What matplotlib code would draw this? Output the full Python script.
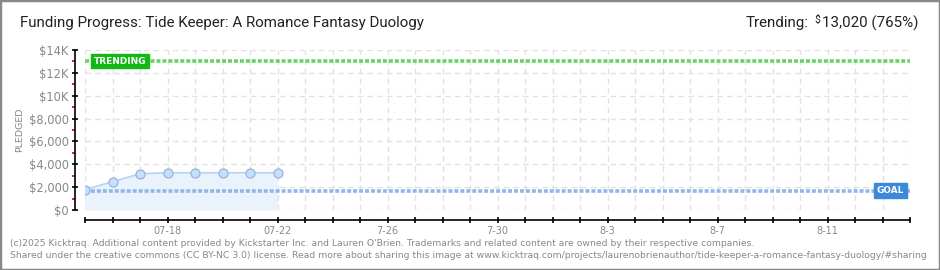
import datetime as dt
import matplotlib
matplotlib.use("Agg")
import matplotlib.pyplot as plt
import matplotlib.dates as mdates
from matplotlib.patches import Rectangle

# ---------------- data ----------------
dates = [dt.date(2025, 7, d) for d in range(15, 23)]
pledged = [1790, 2470, 3170, 3260, 3260, 3260, 3260, 3260]
goal = 1700
trending = 13020
x_start = dt.date(2025, 7, 15)
x_end = dt.date(2025, 8, 14)
label_dates = [dt.date(2025, 7, 18), dt.date(2025, 7, 22), dt.date(2025, 7, 26),
               dt.date(2025, 7, 30), dt.date(2025, 8, 3), dt.date(2025, 8, 7),
               dt.date(2025, 8, 11)]
label_texts = ["07-18", "07-22", "7-26", "7-30", "8-3", "8-7", "8-11"]
y_ticks = [0, 2000, 4000, 6000, 8000, 10000, 12000, 14000]
y_labels = ["$0", "$2,000", "$4,000", "$6,000", "$8,000", "$10K", "$12K", "$14K"]
y_minor = [1000, 3000, 5000, 7000, 9000, 11000, 13000]
title = "Funding Progress: Tide Keeper: A Romance Fantasy Duology"
footer1 = ("(c)2025 Kicktraq. Additional content provided by Kickstarter Inc. and Lauren O'Brien. "
           "Trademarks and related content are owned by their respective companies.")
footer2 = ("Shared under the creative commons (CC BY-NC 3.0) license. Read more about sharing this image at "
           "www.kicktraq.com/projects/laurenobrienauthor/tide-keeper-a-romance-fantasy-duology/#sharing")

W, H = 940, 270
fig = plt.figure(figsize=(W / 100, H / 100), dpi=100)
fig.patch.set_facecolor("white")

def fx(px):
    return px / W

def fy(py):
    return 1 - py / H

ax = fig.add_axes([fx(85), fy(210), fx(910) - fx(85), fy(50) - fy(210)])
ax.set_facecolor("none")

xs = mdates.date2num(dates)
x0 = mdates.date2num(x_start)
x1 = mdates.date2num(x_end)
ax.set_xlim(x0, x1)
ax.set_ylim(0, 14000)

# grid
all_days = [x0 + i for i in range(int(x1 - x0) + 1)]
for d in all_days:
    ax.axvline(d, color="#e2e2e2", lw=1, ls=(0, (4, 3)), zorder=0)
for yv in y_ticks:
    ax.axhline(yv, color="#e2e2e2", lw=1, ls=(0, (4, 3)), zorder=0)

# fill + series
ax.fill_between(xs, pledged, 0, color="#eaf2fc", zorder=1, lw=0)
ax.plot(xs, pledged, color="#b5d3f2", lw=1.2, zorder=3)
ax.plot(xs, pledged, ls="none", marker="o", ms=6.5, mfc="#c8defa",
        mec="#93b5dd", mew=0.9, zorder=4)

# goal and trending lines
ax.plot([x0, x1], [goal, goal], color="#90b8e6", lw=2.6, ls=(0, (1.1, 0.55)), zorder=2)
ax.plot([x0, x1], [trending, trending], color="#66d466", lw=2.6, ls=(0, (1.1, 0.55)), zorder=2)

# labels on lines
ax.text(x0 + 0.33, trending, "TRENDING", color="white", fontsize=6.4, fontweight="bold",
        ha="left", va="center", zorder=6,
        bbox=dict(boxstyle="square,pad=0.3", fc="#14b814", ec="#14b814"))
ax.text(x1 - 0.22, goal, "GOAL", color="white", fontsize=6.4, fontweight="bold",
        ha="right", va="center", zorder=6,
        bbox=dict(boxstyle="square,pad=0.35", fc="#3c88da", ec="#3c88da"))

# spines
for s in ["top", "right"]:
    ax.spines[s].set_visible(False)
ax.spines["left"].set_position(("outward", 7.2))
ax.spines["bottom"].set_position(("outward", 7.2))
ax.spines["left"].set_color("black")
ax.spines["bottom"].set_color("black")
ax.spines["left"].set_linewidth(1.2)
ax.spines["bottom"].set_linewidth(1.2)

ax.set_yticks(y_ticks)
ax.set_yticklabels(y_labels)
ax.set_yticks(y_minor, minor=True)
ax.tick_params(axis="y", which="major", direction="inout", length=5, width=1.2,
               color="black", labelsize=8.3, labelcolor="#888888", pad=2)
ax.tick_params(axis="y", which="minor", direction="out", length=2.5, width=1.2,
               color="#e00000")

ax.set_xticks(all_days)
lbl = {mdates.date2num(d): t for d, t in zip(label_dates, label_texts)}
ax.set_xticklabels([lbl.get(d, "") for d in all_days])
ax.tick_params(axis="x", which="major", direction="inout", length=5, width=1.2,
               color="black", labelsize=7, labelcolor="#888888", pad=2)

fig.text(fx(20), fy(130), "PLEDGED", rotation=90, color="#888888",
         fontsize=6.8, ha="center", va="center")

fig.canvas.draw()
r = fig.canvas.get_renderer()

def fit(t, width_px):
    bb = t.get_window_extent(r)
    t.set_fontsize(t.get_fontsize() * width_px / bb.width)

hfam = ["Roboto", "DejaVu Sans"]
# title
tt = fig.text(fx(20), fy(23), title, fontsize=12, color="#222222", ha="left", va="center",
              family=hfam)
fit(tt, 405)

# trending header (right)
t3 = fig.text(fx(918), fy(23), "13,020 (765%)", fontsize=12, color="#222222",
              ha="right", va="center", family=hfam)
fit(t3, 96)
bb = t3.get_window_extent(r)
t2 = fig.text((bb.x0 - 1) / W, (bb.y1 + 1) / H, "$", fontsize=7.5, color="#222222",
              ha="right", va="top", family=hfam)
bb2 = t2.get_window_extent(r)
fig.text((bb2.x0 - 6) / W, fy(23), "Trending:", fontsize=t3.get_fontsize(), color="#222222",
         ha="right", va="center", family=hfam)

# footer
f1 = fig.text(fx(10), fy(243), footer1, fontsize=6.7, color="#888888", ha="left", va="center")
fit(f1, 740)
f2 = fig.text(fx(10), fy(256), footer2, fontsize=6.7, color="#888888", ha="left", va="center")
fit(f2, 918)

# frame
fig.patches.append(Rectangle((0, 0), 1, 1, transform=fig.transFigure, fill=False,
                             ec="#888888", lw=2.5))

fig.savefig("out.png", dpi=100)
